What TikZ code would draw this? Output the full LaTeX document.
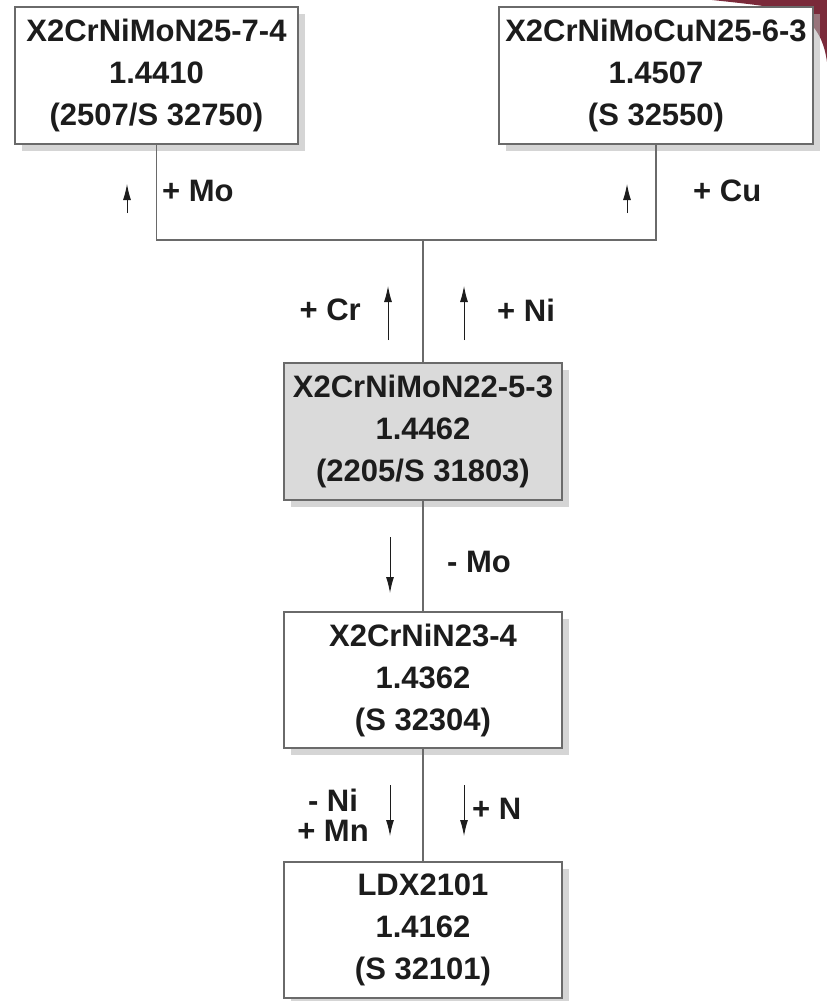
\documentclass[tikz,border=0pt]{standalone}
\usepackage{fontspec}
\setmainfont{Liberation Sans}
\usetikzlibrary{arrows.meta,shadows}
\definecolor{boxline}{HTML}{6A6A6A}
\definecolor{ink}{HTML}{1C1C1C}
\definecolor{centerfill}{HTML}{DADADA}
\definecolor{maroon}{HTML}{7A2A3A}
\tikzset{
  alloy/.style={draw=boxline, line width=1.5pt, fill=white, align=center,
    inner sep=0pt, text=ink, font=\fontsize{31}{42}\selectfont\bfseries,
    drop shadow={shadow xshift=7pt, shadow yshift=-7pt, fill=gray!60, opacity=.55}},
  conn/.style={draw=boxline, line width=1.5pt},
  change/.style={draw=ink, line width=1pt, -{Latex[length=16pt,width=8pt]}},
  lbl/.style={text=ink, inner sep=0pt, align=center, font=\fontsize{31}{30}\selectfont\bfseries}
}
\begin{document}
\begin{tikzpicture}[x=1pt,y=-1pt]
\useasboundingbox (0,0) rectangle (827,1001);
% decorative corner
\fill[maroon] (712,0) -- (827,0) -- (827,62) .. controls (824,40) and (815,20) .. (790,11) .. controls (770,6) and (740,3) .. (712,0);
% boxes
\node[alloy, minimum width=283pt, minimum height=137pt] (tl) at (156.5,75.5) {X2CrNiMoN25-7-4\\1.4410\\(2507/S 32750)};
\node[alloy, minimum width=314pt, minimum height=137pt] (tr) at (656,75.5) {X2CrNiMoCuN25-6-3\\1.4507\\(S 32550)};
\node[alloy, fill=centerfill, minimum width=278pt, minimum height=137pt] (c) at (423,431.5) {X2CrNiMoN22-5-3\\1.4462\\(2205/S 31803)};
\node[alloy, minimum width=278pt, minimum height=136pt] (m) at (423,680) {X2CrNiN23-4\\1.4362\\(S 32304)};
\node[alloy, minimum width=278pt, minimum height=136pt] (b) at (423,930) {LDX2101\\1.4162\\(S 32101)};
% connectors
\coordinate (j) at (423,240);
\draw[conn] (tl.south) |- (j) -| (tr.south);
\draw[conn] (c.north) -- (j);
\draw[conn] (c.south) -- (m.north);
\draw[conn] (m.south) -- (b.north);
% change arrows
\coordinate (a1s) at (127,213); \coordinate (a1e) at (127,184);
\coordinate (a2s) at (627,213); \coordinate (a2e) at (627,184);
\coordinate (a3s) at (388,340); \coordinate (a3e) at (388,286);
\coordinate (a4s) at (464,340); \coordinate (a4e) at (464,286);
\coordinate (a5s) at (390,537); \coordinate (a5e) at (390,593);
\coordinate (a6s) at (390,785); \coordinate (a6e) at (390,836);
\coordinate (a7s) at (464,785); \coordinate (a7e) at (464,836);
\draw[change] (a1s) -- (a1e);
\draw[change] (a2s) -- (a2e);
\draw[change] (a3s) -- (a3e);
\draw[change] (a4s) -- (a4e);
\draw[change] (a5s) -- (a5e);
\draw[change] (a6s) -- (a6e);
\draw[change] (a7s) -- (a7e);
% labels
\node[lbl, anchor=west] (lmo) at (162,191) {+ Mo};
\node[lbl, anchor=west] (lcu) at (693,191) {+ Cu};
\node[lbl, anchor=east] (lcr) at (361,310) {+ Cr};
\node[lbl, anchor=west] (lni) at (497,310) {+ Ni};
\node[lbl, anchor=west] (lmo2) at (447,562) {- Mo};
\node[lbl] (lnimn) at (333,815) {- Ni\\+ Mn};
\node[lbl, anchor=west] (ln) at (472,809) {+ N};
\end{tikzpicture}
\end{document}
